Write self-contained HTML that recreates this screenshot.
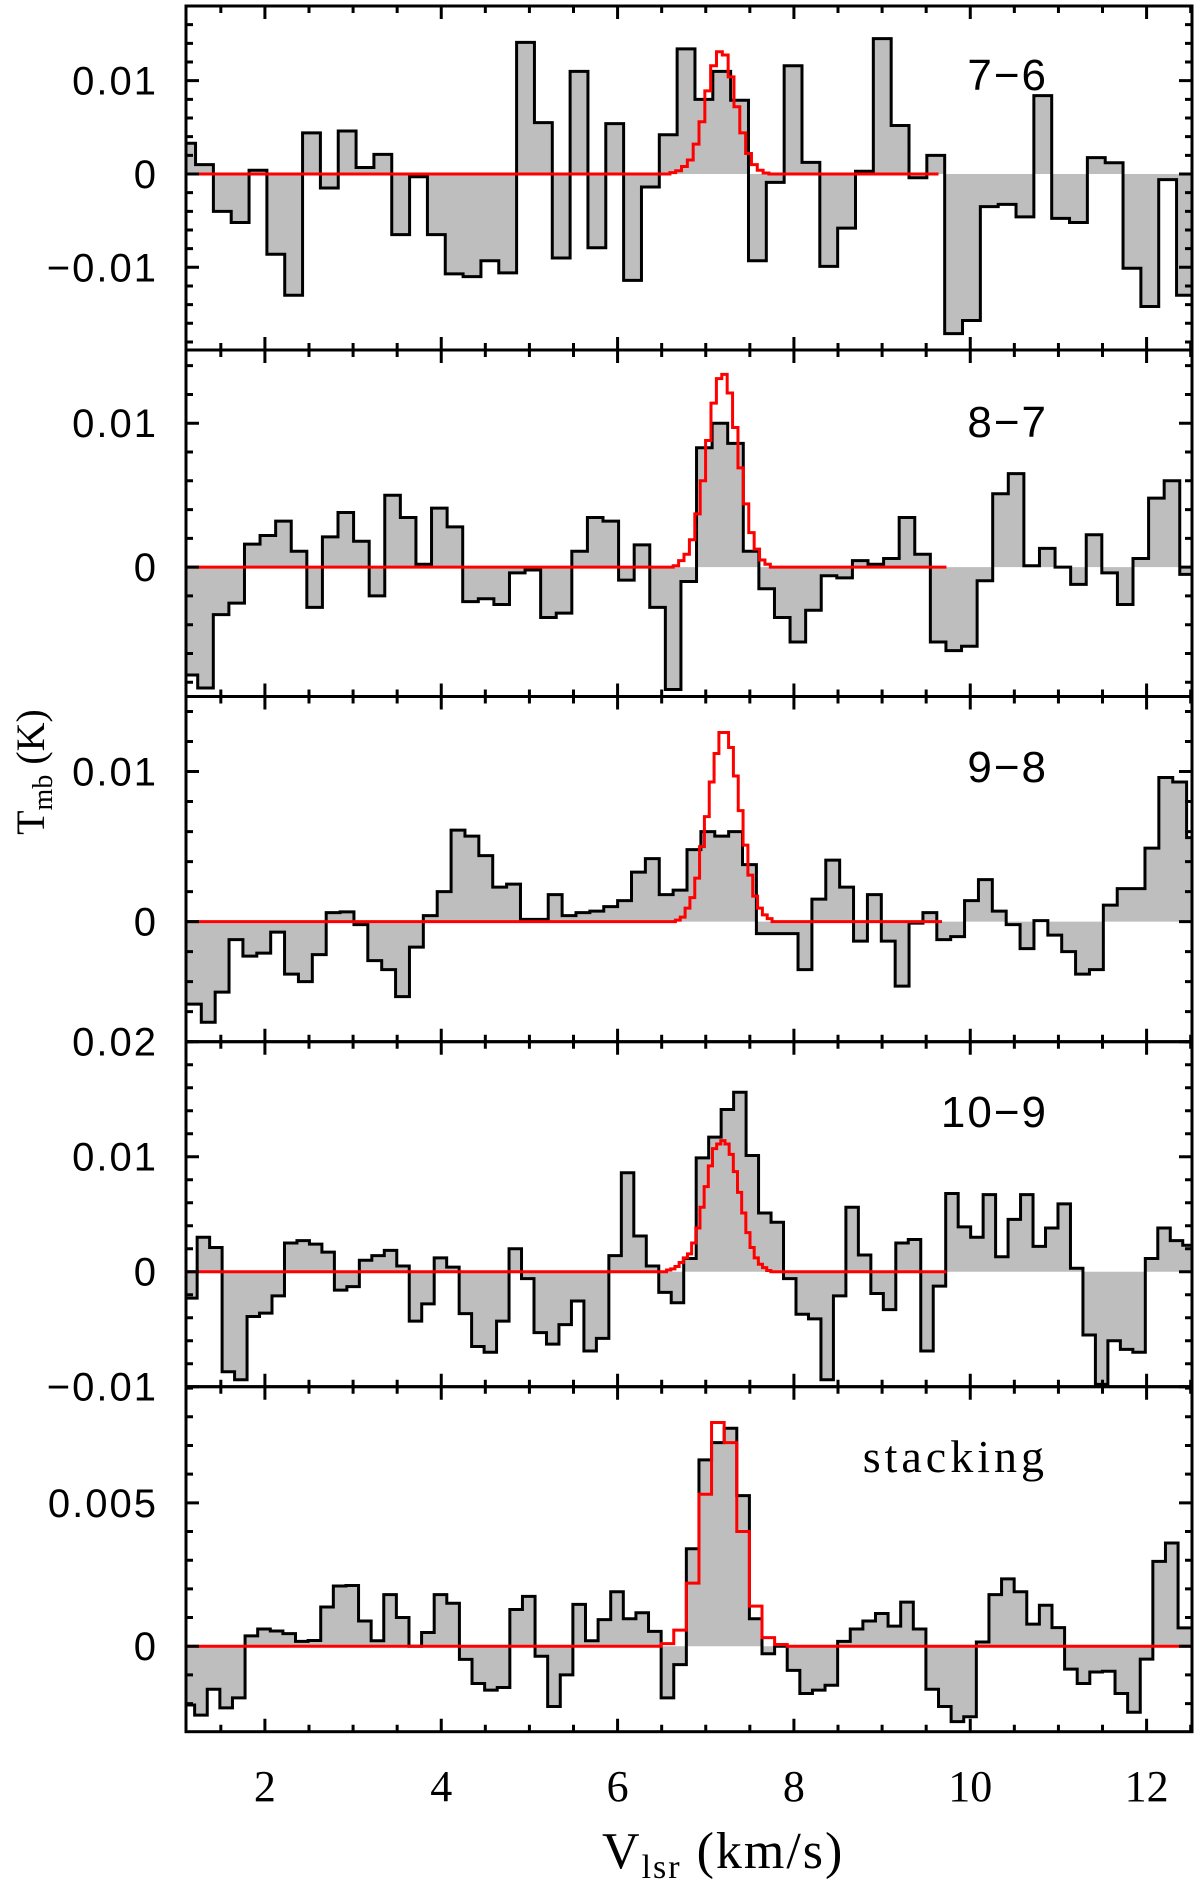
<!DOCTYPE html>
<html>
<head>
<meta charset="utf-8">
<style>
html,body{margin:0;padding:0;background:#fff;}
svg{display:block;}
.tick{font-family:"Liberation Sans",sans-serif;font-size:40px;letter-spacing:2px;fill:#000;}
.xtick{font-family:"Liberation Serif",serif;font-size:44px;fill:#000;}
.lab{font-family:"Liberation Sans",sans-serif;font-size:44px;letter-spacing:2px;fill:#000;}
.title{font-family:"Liberation Serif",serif;fill:#000;}
</style>
</head>
<body>
<svg id="chart" width="1200" height="1895" viewBox="0 0 1200 1895" xmlns="http://www.w3.org/2000/svg">
<g id="panels"></g>
<text class="title" transform="translate(44,772) rotate(-90)" text-anchor="middle" font-size="40">T<tspan font-size="28" dy="8">mb</tspan><tspan dy="-8"> (K)</tspan></text>
<text class="title" x="602" y="1868" font-size="52" letter-spacing="2">V<tspan font-size="34" dy="10">lsr</tspan><tspan dy="-10"> (km/s)</tspan></text>
</svg>
<script>
// ---------- data ----------
const xTicks = [2, 4, 6, 8, 10, 12];
const panelLabels = ["7\u22126", "8\u22127", "9\u22128", "10\u22129", "stacking"];

// channel grids (start velocity, width) km/s
const chanStart = [1.011, 1.061, 1.121, 1.09, 1.06];
const chanWidth = [0.2023, 0.1768, 0.1574, 0.1415, 0.143];

// observed spectra (mK)
const spec76 = [3.3,1.0,-4.0,-5.2,0.4,-8.6,-13.0,4.4,-1.5,4.6,0.7,2.1,-6.5,-0.3,-6.5,-10.7,-11.0,-9.3,-10.6,14.1,5.5,-9.0,11.0,-7.9,5.4,-11.4,-1.4,4.2,13.4,8.0,11.0,7.9,-9.3,-0.9,11.6,1.25,-9.9,-5.8,0.3,14.5,5.2,-0.4,2.0,-17.1,-15.7,-3.5,-3.25,-4.6,8.4,-4.75,-5.2,1.75,1.2,-10.1,-14.2,-0.6,-13.0];
const spec87 = [-7.5,-8.4,-3.3,-2.5,1.6,2.2,3.2,1.1,-2.8,2.1,3.8,1.8,-2.0,5.0,3.45,0.2,4.1,2.8,-2.4,-2.2,-2.6,-0.4,-0.2,-3.5,-3.2,1.1,3.45,3.2,-0.9,1.55,-2.8,-8.5,-1.0,8.3,10.0,8.6,1.1,-1.5,-3.5,-5.2,-3.0,-0.6,-0.75,0.45,0.2,0.6,3.45,0.9,-5.2,-5.8,-5.5,-0.95,5.1,6.5,0.1,1.3,0.0,-1.2,2.25,-0.4,-2.6,0.6,4.8,6.0,-0.5];
const spec98 = [-5.5,-6.7,-4.7,-1.2,-2.3,-2.1,-0.7,-3.5,-4.0,-2.2,0.6,0.65,-0.2,-2.6,-3.2,-5.0,-1.7,0.4,2.0,6.1,5.7,4.4,2.3,2.5,0.15,0.15,1.8,0.4,0.6,0.7,1.0,1.4,3.3,4.2,1.8,2.1,4.8,6.0,5.7,6.0,3.8,-0.8,-0.8,-0.8,-3.2,1.5,4.1,2.3,-1.3,1.8,-1.3,-4.3,-0.1,0.6,-1.2,-1.0,1.4,2.8,0.7,-0.2,-1.8,0.07,-0.9,-2.0,-3.5,-3.2,1.1,2.2,2.2,4.9,9.6,9.3,5.6];
const spec109 = [-2.3,3.0,2.1,-8.7,-9.4,-3.9,-3.6,-2.1,2.5,2.7,2.4,1.7,-1.6,-1.3,1.0,1.4,1.85,0.5,-4.3,-2.8,1.2,0.4,-3.65,-6.5,-7.0,-4.3,2.0,-0.6,-5.3,-6.3,-4.6,-2.55,-6.9,-5.8,1.4,8.6,3.1,0.5,-1.8,-2.7,1.15,9.9,11.7,14.1,15.6,10.1,5.1,4.3,-0.6,-3.7,-4.1,-9.4,-2.1,5.6,1.45,-1.9,-3.3,2.5,2.8,-6.9,-1.25,6.8,3.9,3.0,6.7,1.3,4.55,6.7,2.2,3.8,5.9,0.3,-5.5,-9.8,-6.0,-6.75,-7.0,1.15,3.8,2.7,2.3];
const specStack = [-2.05,-2.4,-1.5,-2.15,-1.8,0.36,0.6,0.53,0.44,0.17,0.2,1.37,2.1,2.12,0.88,0.19,1.8,1.0,0.0,0.48,1.8,1.5,-0.46,-1.3,-1.53,-1.44,1.28,1.74,-0.35,-2.1,-1.0,1.46,0.19,0.93,1.9,0.96,1.17,0.52,-1.8,-0.64,3.4,6.5,7.1,7.6,5.25,0.96,-0.26,0.0,-0.84,-1.65,-1.53,-1.36,0.17,0.6,0.88,1.14,0.7,1.54,0.6,-1.5,-2.1,-2.63,-2.46,0.15,1.8,2.35,1.9,0.77,1.43,0.65,-0.8,-1.3,-0.9,-0.87,-1.65,-2.3,-0.45,2.96,3.6,0.64];

// model (red) profiles (mK): start velocity, step, end velocity
const modelStart = [6.593, 6.631, 6.656, 6.556, 6.494];
const modelStep = [0.0661, 0.0612, 0.0548, 0.0473, 0.143];
const modelEnd = [9.64, 9.73, 9.68, 9.73, 12.6];
const model76 = [0.15,0.35,0.8,1.5,3.2,5.6,8.9,11.6,13.1,12.75,10.4,7.2,4.4,2.2,1.0,0.4,0.1];
const model87 = [0.1,0.45,0.9,1.9,3.7,6.0,8.8,11.4,13.1,13.4,12.1,9.7,6.9,4.4,2.4,1.25,0.5,0.2];
const model98 = [0.1,0.3,0.9,1.6,2.9,5.0,7.0,9.3,11.2,12.6,12.6,11.6,9.7,7.4,5.1,3.1,1.7,0.9,0.45,0.2];
const model109 = [0.15,0.25,0.45,0.8,1.2,1.55,2.5,3.8,5.6,7.4,9.2,10.7,11.1,11.4,11.1,10.2,8.7,6.9,5.1,3.4,2.1,1.2,0.65,0.35,0.1];
const modelStack = [0.09,0.56,2.2,5.3,7.8,7.1,4.0,1.4,0.3,0.06];

// y tick labels per panel
const yTickVals = [[0.01,0,-0.01],[0.01,0],[0.01,0],[0.02,0.01,0,-0.01],[0.005,0]];
const yTickText = [["0.01","0","\u22120.01"],["0.01","0"],["0.01","0"],["0.02","0.01","0","\u22120.01"],["0.005","0"]];

// ---------- layout ----------
const specs = [spec76, spec87, spec98, spec109, specStack];
const models = [model76, model87, model98, model109, modelStack];
const names = ["7-6","8-7","9-8","10-9","stacking"];
const XL = 186, XR = 1192, VMIN = 1.105, VMAX = 12.515;
const panels = [
  {top:6, bot:350, ymin:-0.01886, ymax:0.0180, minor:0.002, major:0.01, labY:90},
  {top:350, bot:696.5, ymin:-0.00899, ymax:0.01509, minor:0.002, major:0.01, labY:437},
  {top:696.5, bot:1041.7, ymin:-0.0080, ymax:0.0150, minor:0.002, major:0.01, labY:782},
  {top:1041.7, bot:1386.7, ymin:-0.0100, ymax:0.0200, minor:0.002, major:0.01, labY:1127},
  {top:1386.7, bot:1731.7, ymin:-0.00298, ymax:0.00905, minor:0.001, major:0.005, labY:1472}
];
const NS = "http://www.w3.org/2000/svg";
const root = document.getElementById('panels');
function xs(v){ return XL + (v - VMIN) / (VMAX - VMIN) * (XR - XL); }
function mk(tag, attrs){ const e = document.createElementNS(NS, tag); for (const k in attrs) e.setAttribute(k, attrs[k]); return e; }

panels.forEach((p, pi) => {
  const ys = v => p.bot - (v/1000 - p.ymin) / (p.ymax - p.ymin) * (p.bot - p.top);
  const ysK = v => p.bot - (v - p.ymin) / (p.ymax - p.ymin) * (p.bot - p.top);
  const g = mk('g', {});
  
  
  root.appendChild(g);
  const cid = 'clip' + pi;
  const cp = mk('clipPath', {id: cid});
  cp.appendChild(mk('rect', {x: XL, y: p.top, width: XR - XL, height: p.bot - p.top}));
  g.appendChild(cp);
  const inner = mk('g', {'clip-path': 'url(#' + cid + ')'});
  g.appendChild(inner);

  // histogram
  const data = specs[pi];
  const s0 = chanStart[pi], w = chanWidth[pi];
  let d = '';
  data.forEach((val, i) => {
    const a = Math.max(VMIN - 0.05, s0 + i*w), b = s0 + (i+1)*w;
    const y = ys(val).toFixed(2);
    if (i === 0) d += 'M' + xs(a).toFixed(2) + ',' + y; else d += 'V' + y;
    d += 'H' + xs(b).toFixed(2);
  });
  const lastX = xs(s0 + data.length*w).toFixed(2);
  const firstX = xs(Math.max(VMIN - 0.05, s0)).toFixed(2);
  const fill = mk('path', {d: d + 'V' + ys(0).toFixed(2) + 'H' + firstX + 'Z', fill: '#bebebe', stroke: 'none'});
  
  
  inner.appendChild(fill);
  const line = mk('path', {d: d, fill: 'none', stroke: '#000', 'stroke-width': 3, 'stroke-linejoin': 'miter'});
  
  
  inner.appendChild(line);

  // model
  const m = models[pi], ms = modelStart[pi], mst = modelStep[pi];
  let md = 'M' + xs(VMIN - 0.05).toFixed(2) + ',' + ys(0).toFixed(2) + 'H' + xs(ms).toFixed(2);
  m.forEach((val, i) => { md += 'V' + ys(val).toFixed(2) + 'H' + xs(ms + (i+1)*mst).toFixed(2); });
  md += 'V' + ys(0).toFixed(2) + 'H' + xs(modelEnd[pi]).toFixed(2);
  const red = mk('path', {d: md, fill: 'none', stroke: '#ff0000', 'stroke-width': 3});
  
  
  inner.appendChild(red);

  // frame
  const frame = mk('rect', {x: XL, y: p.top, width: XR - XL, height: p.bot - p.top, fill: 'none', stroke: '#000', 'stroke-width': 3});
  
  
  g.appendChild(frame);

  // x ticks (top & bottom)
  let td = '';
  for (let v = 1.5; v <= 12.5001; v += 0.5) {
    const x = xs(v).toFixed(2);
    const len = (Math.abs(v/2 - Math.round(v/2)) < 1e-6) ? 13 : 7;
    td += 'M' + x + ',' + p.top + 'v' + len + 'M' + x + ',' + p.bot + 'v' + (-len);
  }
  // y ticks (left & right)
  const nmin = Math.ceil(p.ymin / p.minor - 1e-6), nmax = Math.floor(p.ymax / p.minor + 1e-6);
  for (let n = nmin; n <= nmax; n++) {
    const v = n * p.minor;
    const y = ysK(v).toFixed(2);
    const isMaj = Math.abs(v/p.major - Math.round(v/p.major)) < 1e-6;
    const len = isMaj ? 13 : 7;
    td += 'M' + XL + ',' + y + 'h' + len + 'M' + XR + ',' + y + 'h' + (-len);
  }
  const ticks = mk('path', {d: td, stroke: '#000', 'stroke-width': 3, fill: 'none'});
  
  
  g.appendChild(ticks);

  // y tick labels
  yTickVals[pi].forEach((v, i) => {
    const t = mk('text', {x: 158, y: (ysK(v) + 14).toFixed(2), 'text-anchor': 'end', class: 'tick'});
    t.textContent = yTickText[pi][i];
    
    
    g.appendChild(t);
  });

  // panel label
  const lab = mk('text', {x: 1048, y: p.labY, 'text-anchor': 'end', class: pi === 4 ? 'title' : 'lab'});
  if (pi === 4) { lab.setAttribute('font-size', '46'); lab.setAttribute('letter-spacing', '4'); }
  lab.textContent = panelLabels[pi];
  
  
  g.appendChild(lab);
});

// x tick labels
xTicks.forEach(v => {
  const t = mk('text', {x: xs(v).toFixed(2), y: 1801, 'text-anchor': 'middle', class: 'xtick'});
  t.textContent = String(v);
  
  
  root.appendChild(t);
});
</script>
</body>
</html>
